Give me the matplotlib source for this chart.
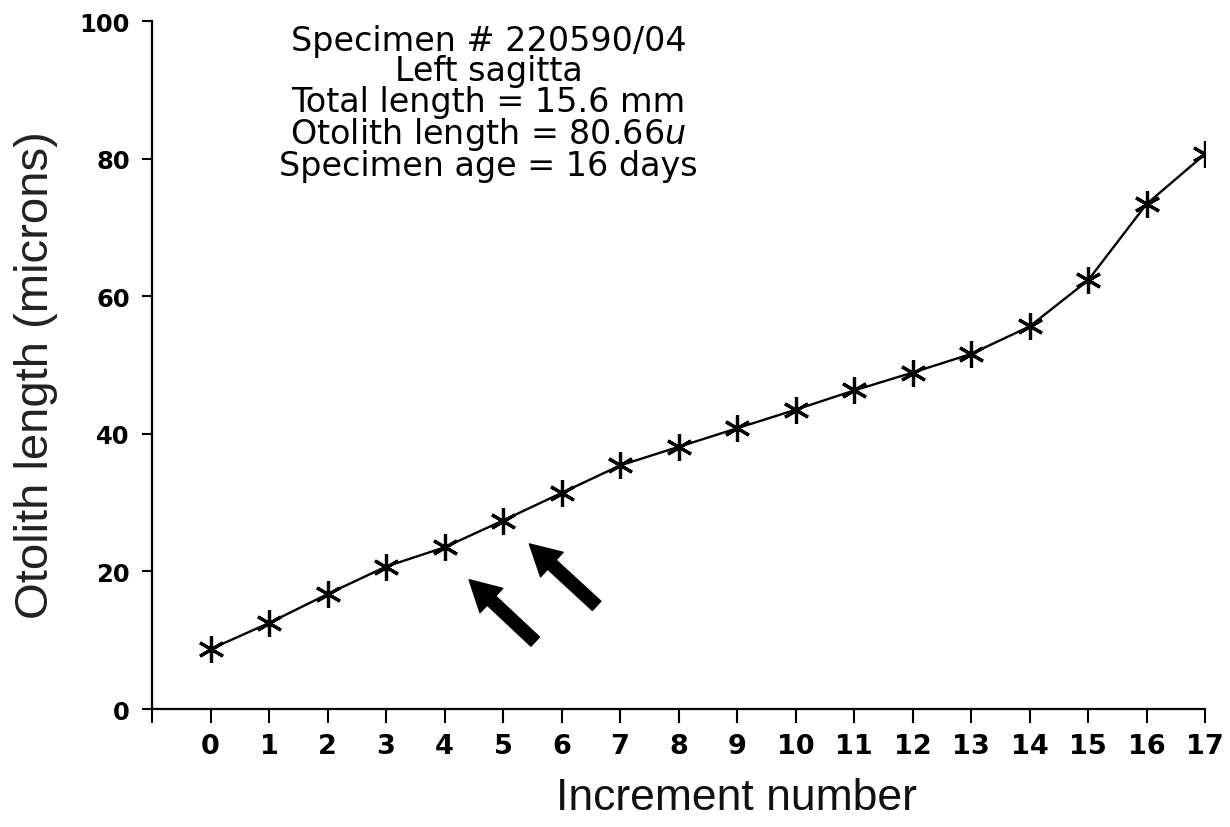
import matplotlib
matplotlib.use("Agg")
import matplotlib.pyplot as plt

# otolith increment data
increments = list(range(18))
otolith_len = [8.7, 12.5, 16.7, 20.7, 23.5, 27.4, 31.4, 35.4, 38.1, 40.8,
               43.5, 46.3, 48.9, 51.6, 55.6, 62.3, 73.4, 80.66]
y_ticks = [0, 20, 40, 60, 80, 100]

info_lines = [
    "Specimen # 220590/04",
    "Left sagitta",
    "Total length = 15.6 mm",
    r"Otolith length = 80.66$\mathit{u}$",
    "Specimen age = 16 days",
]

# arrows pointing at the check marks (tail -> head, data units)
arrow_tails = [(5.55, 9.8), (6.6, 15.0)]
arrow_heads = [(4.42, 18.8), (5.45, 24.0)]

plt.rcParams["font.family"] = ["Liberation Sans", "DejaVu Sans"]
plt.rcParams["mathtext.fontset"] = "custom"
plt.rcParams["mathtext.it"] = "DejaVu Sans:italic"
plt.rcParams["mathtext.rm"] = "DejaVu Sans"

fig = plt.figure(figsize=(12.3, 8.28), dpi=100)
ax = fig.add_axes([0.1236, 0.1425, 0.9797 - 0.1236, 0.9734 - 0.1425])

ax.plot(increments, otolith_len, color="black", lw=1.7,
        marker=(6, 2, 0), markersize=19, markeredgewidth=2.3,
        markeredgecolor="black")

for tail, head in zip(arrow_tails, arrow_heads):
    ax.annotate("", xy=head, xytext=tail,
                arrowprops=dict(width=9, headwidth=24, headlength=22,
                                facecolor="black", edgecolor="black"))

ax.text(4.75, 99.6, "\n".join(info_lines), ha="center", va="top",
        family="DejaVu Sans", fontsize=24, linespacing=0.9, color="black")

ax.set_xlim(-1, 17)
ax.set_ylim(0, 100)
ax.set_xticks([-1] + increments)
ax.set_xticklabels([""] + [str(i) for i in increments],
                   family="DejaVu Sans", fontweight="bold", fontsize=19.5)
ax.set_yticks(y_ticks)
ax.set_yticklabels([str(v) for v in y_ticks], family="DejaVu Sans",
                   fontweight="bold", fontsize=17.5)

for side in ("top", "right"):
    ax.spines[side].set_visible(False)
for side in ("left", "bottom"):
    ax.spines[side].set_linewidth(1.6)

ax.tick_params(axis="x", direction="out", length=10, width=1.5, pad=7)
ax.tick_params(axis="y", direction="out", length=7, width=1.5, pad=9)

ax.set_xlabel("Increment number", fontsize=32, color="#111111")
ax.xaxis.set_label_coords(0.555, -0.099)
ax.set_ylabel("Otolith length (microns)", fontsize=34, color="#222222")
ax.yaxis.set_label_coords(-0.089, 0.487)

fig.savefig("out.png", dpi=100, facecolor="white")
